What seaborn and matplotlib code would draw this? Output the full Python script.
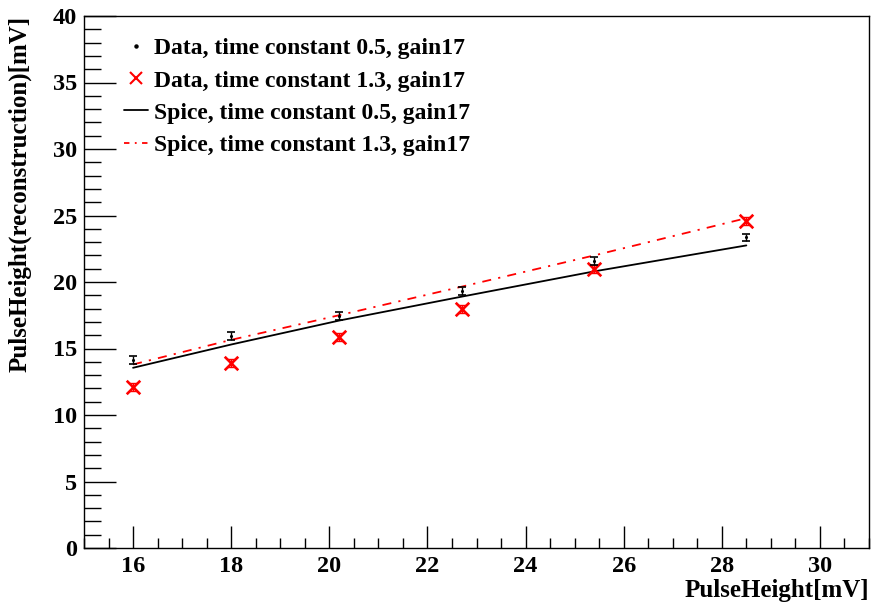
import numpy as np
import pandas as pd
import matplotlib
matplotlib.use("Agg")
import matplotlib.pyplot as plt
from matplotlib.lines import Line2D
from matplotlib.ticker import MultipleLocator
import seaborn as sns

# Input pulse height [mV]
pulse_height = [16.0, 18.0, 20.2, 22.7, 25.4, 28.5]

# Measured reconstructed pulse height [mV]
data_tc05 = [14.15, 15.95, 17.45, 19.35, 21.6, 23.35]
data_tc05_err = [0.3, 0.3, 0.3, 0.3, 0.3, 0.25]
data_tc13 = [12.1, 13.9, 15.9, 17.95, 21.0, 24.6]
data_tc13_err = [0.3, 0.3, 0.3, 0.3, 0.3, 0.3]

# Spice simulation [mV]
spice_tc05 = [13.55, 15.3, 17.1, 18.9, 20.8, 22.75]
spice_tc13 = [13.8, 15.65, 17.5, 19.65, 22.0, 24.8]

labels = [
    "Data, time constant 0.5, gain17",
    "Data, time constant 1.3, gain17",
    "Spice, time constant 0.5, gain17",
    "Spice, time constant 1.3, gain17",
]

sns.set_theme(style="ticks")
plt.rcParams["font.family"] = ["Liberation Serif", "DejaVu Serif"]
plt.rcParams["font.weight"] = "bold"

fig = plt.figure(figsize=(8.75, 6.09), dpi=100)
fig.patch.set_facecolor("white")
ax = fig.add_axes([84 / 875, 1 - 548 / 609, (869 - 84) / 875, (548 - 16) / 609])
ax.set_facecolor("white")

df = pd.DataFrame({
    "x": pulse_height,
    "tc05": data_tc05,
    "tc13": data_tc13,
    "sp05": spice_tc05,
    "sp13": spice_tc13,
})

dashdot = (0, (5, 4, 1.2, 4))
sns.lineplot(data=df, x="x", y="sp05", ax=ax, color="black", lw=1.3,
             sort=False, estimator=None)
sns.lineplot(data=df, x="x", y="sp13", ax=ax, color="#ff0000", lw=1.3,
             sort=False, estimator=None, linestyle=dashdot)

ax.errorbar(pulse_height, data_tc13, yerr=data_tc13_err, fmt="none",
            ecolor="#ff0000", elinewidth=1.0, capsize=3, capthick=1.0, zorder=3)
sns.scatterplot(data=df, x="x", y="tc13", ax=ax, marker="x", s=95,
                color="#ff0000", linewidth=1.9, zorder=4)

ax.errorbar(pulse_height, data_tc05, yerr=data_tc05_err, fmt="none",
            ecolor="black", elinewidth=1.0, capsize=3, capthick=1.2, zorder=5)
sns.scatterplot(data=df, x="x", y="tc05", ax=ax, marker="o", s=5,
                color="black", edgecolor="black", linewidth=0, zorder=6)

ax.set_xlim(15, 31)
ax.set_ylim(0, 40)
ax.xaxis.set_major_locator(MultipleLocator(2))
ax.xaxis.set_minor_locator(MultipleLocator(0.5))
ax.yaxis.set_major_locator(MultipleLocator(5))
ax.yaxis.set_minor_locator(MultipleLocator(1))

ax.tick_params(axis="x", which="major", direction="in", length=16, width=1,
               labelsize=17.5, pad=6, top=False, color="black")
ax.tick_params(axis="x", which="minor", direction="in", length=7, width=1,
               top=False, color="black")
ax.tick_params(axis="y", which="major", direction="in", length=23, width=1,
               labelsize=17.5, pad=5, right=False, color="black")
ax.tick_params(axis="y", which="minor", direction="in", length=12, width=1,
               right=False, color="black")
for lab in ax.get_xticklabels() + ax.get_yticklabels():
    lab.set_fontweight("bold")
    lab.set_color("black")

for sp in ax.spines.values():
    sp.set_visible(True)
    sp.set_color("black")
    sp.set_linewidth(1.0)

ax.set_xlabel("PulseHeight[mV]", fontsize=18, fontweight="bold", color="black")
ax.xaxis.set_label_coords(1.0, -0.058)
ax.xaxis.label.set_horizontalalignment("right")
ax.xaxis.label.set_verticalalignment("top")
ax.set_ylabel("PulseHeight(reconstruction)[mV]", fontsize=18,
              fontweight="bold", color="black")
ax.yaxis.set_label_coords(-0.082, 1.0)
ax.yaxis.label.set_horizontalalignment("right")
ax.yaxis.label.set_verticalalignment("center")

handles = [
    Line2D([], [], ls="none", marker="o", ms=2.2, color="black"),
    Line2D([], [], ls="none", marker="x", ms=8.5, mew=1.5, color="#ff0000"),
    Line2D([], [], color="black", lw=1.3),
    Line2D([], [], color="#ff0000", lw=1.3, linestyle=(0, (3, 3, 1, 3))),
]
leg = ax.legend(handles, labels, loc="upper left", bbox_to_anchor=(0.030, 0.99),
                frameon=False, fontsize=17, handlelength=1.0, handletextpad=0.25,
                labelspacing=0.45, borderpad=0.2)
for t in leg.get_texts():
    t.set_fontweight("bold")
    t.set_color("black")

fig.savefig("out.png", dpi=100, facecolor="white")
